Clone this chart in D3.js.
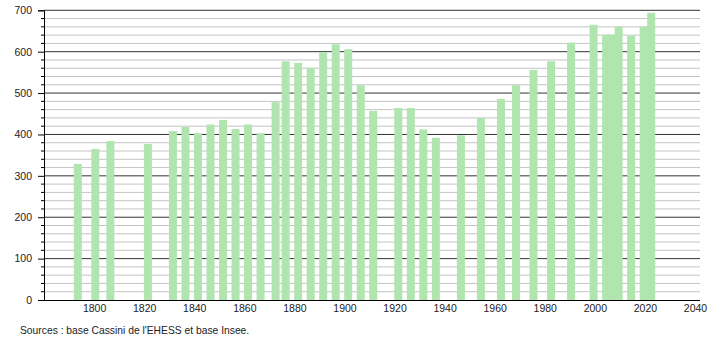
<!DOCTYPE html>
<html>
<head>
<meta charset="utf-8">
<script src="https://cdn.jsdelivr.net/npm/d3@7"></script>
<style>
  html, body { margin: 0; padding: 0; background: #fff; }
  svg { display: block; font-family: "Liberation Sans", Arial, sans-serif; }
</style>
</head>
<body>
<svg id="chart" width="710" height="340"></svg>
<script>
const years = [1793, 1800, 1806, 1821, 1831, 1836, 1841, 1846, 1851, 1856, 1861, 1866,
  1872, 1876, 1881, 1886, 1891, 1896, 1901, 1906, 1911, 1921, 1926, 1931, 1936,
  1946, 1954, 1962, 1968, 1975, 1982, 1990, 1999, 2004, 2006, 2009, 2014, 2019, 2022];
const population = [329, 365, 384, 377, 408, 418, 403, 424, 435, 413, 424, 403,
  478, 577, 573, 561, 599, 618, 606, 519, 457, 464, 464, 412, 392,
  398, 440, 486, 519, 556, 577, 622, 665, 641, 641, 660, 639, 660, 694];
const xTicks = [1800, 1820, 1840, 1860, 1880, 1900, 1920, 1940, 1960, 1980, 2000, 2020, 2040];
const yTicks = [0, 100, 200, 300, 400, 500, 600, 700];
const sourceText = "Sources : base Cassini de l'EHESS et base Insee.";

(function () {
const svg = d3.select("#chart");
const mLeft = 44, mRight = 700, mTop = 10.3, mBottom = 300;
const x = d3.scaleLinear().domain([1780, 2042]).range([mLeft, mRight]);
const y = d3.scaleLinear().domain([0, 700]).range([mBottom, mTop]);
const barW = 8;
const font = "'Liberation Sans', Arial, sans-serif";

// minor gridlines
const minor = d3.range(20, 701, 20).filter(v => v % 100 !== 0);
svg.append("g").selectAll("line").data(minor).join("line")
  .attr("x1", mLeft).attr("x2", mRight)
  .attr("y1", d => y(d)).attr("y2", d => y(d))
  .attr("stroke", "#c4c4c4").attr("stroke-width", 1);
// major gridlines
svg.append("g").selectAll("line").data(yTicks.filter(v => v > 0)).join("line")
  .attr("x1", mLeft).attr("x2", mRight)
  .attr("y1", d => y(d)).attr("y2", d => y(d))
  .attr("stroke", "#333").attr("stroke-width", 1);

// bars
svg.append("g").selectAll("rect").data(years).join("rect")
  .attr("x", (d) => x(d + 0.5) - barW / 2)
  .attr("width", barW)
  .attr("y", (d, i) => y(population[i]))
  .attr("height", (d, i) => y(0) - y(population[i]))
  .attr("fill", "#b0e5b0");

// y axis
const yAxis = d3.axisLeft(y).tickValues(yTicks).tickSize(6).tickPadding(6);
const gy = svg.append("g").attr("transform", `translate(${mLeft},0)`).call(yAxis);
gy.select(".domain").attr("stroke", "#000");
gy.selectAll(".tick line").attr("stroke", "#000");
gy.selectAll(".tick text").attr("font-size", 10.5).attr("fill", "#222")
  .attr("font-family", font);
// minor ticks
svg.append("g").selectAll("line").data(minor).join("line")
  .attr("x1", mLeft - 3).attr("x2", mLeft)
  .attr("y1", d => y(d)).attr("y2", d => y(d))
  .attr("stroke", "#000");

// x axis
const xAxis = d3.axisBottom(x).tickValues(xTicks).tickFormat(d3.format("d")).tickSize(0).tickPadding(5);
const gx = svg.append("g").attr("transform", `translate(0,${mBottom})`).call(xAxis);
gx.select(".domain").attr("stroke", "#000").attr("d", `M${mLeft - 4},0.5H${mRight}`);
gx.selectAll(".tick text").attr("font-size", 10.5).attr("fill", "#222")
  .attr("font-family", font);

// source
svg.append("text").attr("x", 20).attr("y", 334)
  .attr("font-size", 10.3).attr("fill", "#222").attr("font-family", font).text(sourceText);
})();
</script>
</body>
</html>
